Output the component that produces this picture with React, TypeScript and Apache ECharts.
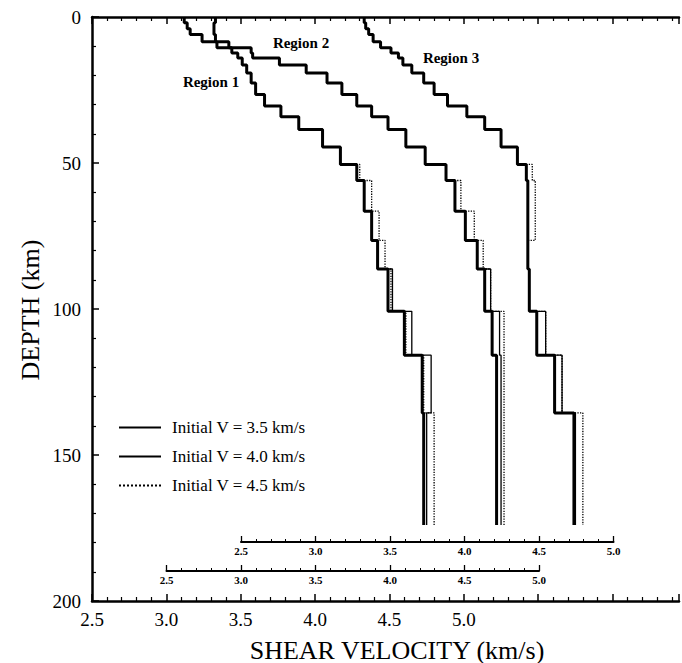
import React, { useEffect, useRef } from "react";
import * as echarts from "echarts";

// Layer boundaries (km)
const depthBounds = [0, 2, 4, 6, 8.5, 10.5, 12.3, 14, 16.4, 19.2, 22.6, 26.5, 30.5, 34.2, 38.5, 44.5, 50.5, 56, 66.5, 76.5, 86.3, 100.8, 115.8, 135.6, 174];

// Region 1 (no offset)
const region1V35 = [3.12, 3.14, 3.16, 3.24, 3.34, 3.44, 3.48, 3.51, 3.54, 3.57, 3.60, 3.66, 3.77, 3.89, 4.05, 4.17, 4.28, 4.33, 4.38, 4.42, 4.49, 4.60, 4.72, 4.73];
const region1V40 = [3.12, 3.14, 3.16, 3.24, 3.34, 3.44, 3.48, 3.51, 3.54, 3.57, 3.60, 3.66, 3.77, 3.89, 4.05, 4.17, 4.28, 4.33, 4.38, 4.42, 4.52, 4.65, 4.78, 4.75];
const region1V45 = [3.12, 3.14, 3.16, 3.24, 3.34, 3.44, 3.48, 3.51, 3.54, 3.57, 3.60, 3.66, 3.77, 3.89, 4.05, 4.17, 4.30, 4.38, 4.43, 4.47, 4.51, 4.61, 4.73, 4.80];

// Region 2 (plotted +0.5 km/s)
const region2V35 = [2.83, 2.82, 2.82, 2.83, 2.92, 3.07, 3.08, 3.26, 3.44, 3.58, 3.68, 3.78, 3.88, 3.99, 4.11, 4.24, 4.38, 4.44, 4.51, 4.59, 4.64, 4.69, 4.72, 4.72];
const region2V40 = [2.83, 2.82, 2.82, 2.83, 2.92, 3.07, 3.08, 3.26, 3.44, 3.58, 3.68, 3.78, 3.88, 3.99, 4.11, 4.24, 4.38, 4.44, 4.51, 4.59, 4.68, 4.74, 4.75, 4.75];
const region2V45 = [2.83, 2.82, 2.82, 2.83, 2.92, 3.07, 3.08, 3.26, 3.44, 3.58, 3.68, 3.78, 3.88, 3.99, 4.11, 4.24, 4.38, 4.48, 4.57, 4.63, 4.68, 4.77, 4.77, 4.77];

// Region 3 (plotted +1.0 km/s)
const region3V35 = [3.33, 3.34, 3.36, 3.39, 3.44, 3.51, 3.56, 3.59, 3.65, 3.73, 3.80, 3.89, 4.02, 4.14, 4.25, 4.36, 4.42, 4.43, 4.43, 4.43, 4.44, 4.49, 4.61, 4.74];
const region3V40 = [3.33, 3.34, 3.36, 3.39, 3.44, 3.51, 3.56, 3.59, 3.65, 3.73, 3.80, 3.89, 4.02, 4.14, 4.25, 4.36, 4.42, 4.43, 4.43, 4.43, 4.44, 4.55, 4.66, 4.75];
const region3V45 = [3.33, 3.34, 3.36, 3.39, 3.44, 3.51, 3.56, 3.59, 3.65, 3.73, 3.80, 3.89, 4.02, 4.14, 4.25, 4.36, 4.46, 4.48, 4.48, 4.43, 4.44, 4.55, 4.66, 4.80];

const regionOffsets = [0, 0.5, 1.0];
const regionNames = ["Region 1", "Region 2", "Region 3"];
const legendNames = ["Initial V = 3.5 km/s", "Initial V = 4.0 km/s", "Initial V = 4.5 km/s"];
const mainTickMax = 5.0;
const mainXMin = 2.5;
const mainXMax = 2.5 + 588 / 149;

const FONT = "'Liberation Serif', 'Times New Roman', serif";

function profile(vels: number[], offset: number) {
  const pts: number[][] = [];
  vels.forEach((v, i) => {
    pts.push([v + offset, depthBounds[i]]);
    pts.push([v + offset, depthBounds[i + 1]]);
  });
  return pts;
}

const styles = [
  { width: 3, type: "solid" },
  { width: 1.3, type: "solid" },
  { width: 1.3, type: "dotted" },
];

export default function App() {
  const ref = useRef<HTMLDivElement>(null);
  useEffect(() => {
    if (!ref.current) return;
    const chart = echarts.init(ref.current, undefined, { renderer: "svg" });
    const regions = [
      [region1V35, region1V40, region1V45],
      [region2V35, region2V40, region2V45],
      [region3V35, region3V40, region3V45],
    ];
    const series: any[] = [];
    regions.forEach((set, r) => {
      set.forEach((vals, k) => {
        series.push({
          type: "line",
          name: legendNames[k],
          xAxisIndex: 0,
          yAxisIndex: 0,
          data: profile(vals, regionOffsets[r]),
          symbol: "none",
          lineStyle: { color: "#000", width: styles[k].width, type: styles[k].type },
          itemStyle: { color: "#000" },
          z: 3 - k,
        });
      });
    });

    const baseAxisLine = { onZero: false, lineStyle: { color: "#000", width: 2.5 } };
    const mainX = (pos: string, showLabel: boolean) => ({
      gridIndex: 0,
      type: "value",
      position: pos,
      min: mainXMin,
      max: mainXMax,
      interval: 0.5,
      axisLine: baseAxisLine,
      axisTick: { inside: true, length: 7, lineStyle: { color: "#000", width: 1.5 } },
      minorTick: { show: true, splitNumber: 5, length: 4, lineStyle: { color: "#000", width: 1.2 } },
      splitLine: { show: false },
      axisLabel: {
        show: showLabel,
        formatter: (v: number) => (v <= mainTickMax + 1e-9 ? v.toFixed(1) : ""),
        fontSize: 19,
        fontFamily: FONT,
        color: "#000",
        margin: 9,
      },
    });
    const smallX = (grid: number) => ({
      gridIndex: grid,
      type: "value",
      position: "bottom",
      min: 2.5,
      max: 5.0,
      interval: 0.5,
      axisLine: { onZero: false, lineStyle: { color: "#000", width: 2 } },
      axisTick: { inside: true, length: 6, lineStyle: { color: "#000", width: 1.3 } },
      minorTick: { show: true, splitNumber: 5, length: 3, lineStyle: { color: "#000", width: 1 } },
      splitLine: { show: false },
      axisLabel: {
        formatter: (v: number) => v.toFixed(1),
        fontSize: 11,
        fontWeight: "bold",
        fontFamily: FONT,
        color: "#000",
        margin: 3,
      },
    });

    const option: any = {
      animation: false,
      backgroundColor: "#fff",
      grid: [
        { left: 92, top: 17, width: 588, height: 584 },
        { left: 166.5, top: 531, width: 372.5, height: 40 },
        { left: 241, top: 502, width: 372.5, height: 40 },
      ],
      xAxis: [mainX("bottom", true), mainX("top", false), smallX(1), smallX(2)],
      yAxis: [
        {
          gridIndex: 0,
          type: "value",
          inverse: true,
          min: 0,
          max: 200,
          interval: 50,
          axisLine: { onZero: false, lineStyle: { color: "#000", width: 2.5 } },
          axisTick: { inside: true, length: 7, lineStyle: { color: "#000", width: 1.5 } },
          minorTick: { show: true, splitNumber: 5, length: 4, lineStyle: { color: "#000", width: 1.2 } },
          splitLine: { show: false },
          axisLabel: { fontSize: 19, fontFamily: FONT, color: "#000", margin: 11 },
        },
        { gridIndex: 1, show: false, min: 0, max: 1 },
        { gridIndex: 2, show: false, min: 0, max: 1 },
      ],
      legend: {
        data: legendNames,
        orient: "vertical",
        left: 113,
        top: 414,
        itemWidth: 42,
        itemHeight: 14,
        itemGap: 12,
        itemStyle: { opacity: 0 },
        textStyle: { fontSize: 17, fontFamily: FONT, color: "#000", padding: [0, 0, 0, 6] },
        selectedMode: false,
      },
      graphic: [
        { type: "text", x: 211, y: 82, style: { text: regionNames[0], font: `bold 15px ${FONT}`, fill: "#000", textAlign: "center", textVerticalAlign: "middle" } },
        { type: "text", x: 301, y: 43, style: { text: regionNames[1], font: `bold 15px ${FONT}`, fill: "#000", textAlign: "center", textVerticalAlign: "middle" } },
        { type: "text", x: 451, y: 58, style: { text: regionNames[2], font: `bold 15px ${FONT}`, fill: "#000", textAlign: "center", textVerticalAlign: "middle" } },
        { type: "text", x: 30, y: 310, rotation: Math.PI / 2, style: { text: "DEPTH (km)", font: `26px ${FONT}`, fill: "#000", textAlign: "center", textVerticalAlign: "middle" } },
        { type: "text", x: 397, y: 650, style: { text: "SHEAR VELOCITY (km/s)", font: `26px ${FONT}`, fill: "#000", textAlign: "center", textVerticalAlign: "middle" } },
      ],
      series,
    };
    chart.setOption(option);
    return () => chart.dispose();
  }, []);
  return <div ref={ref} style={{ position: "absolute", left: 0, top: 0, width: 682, height: 663, background: "#fff" }} />;
}
